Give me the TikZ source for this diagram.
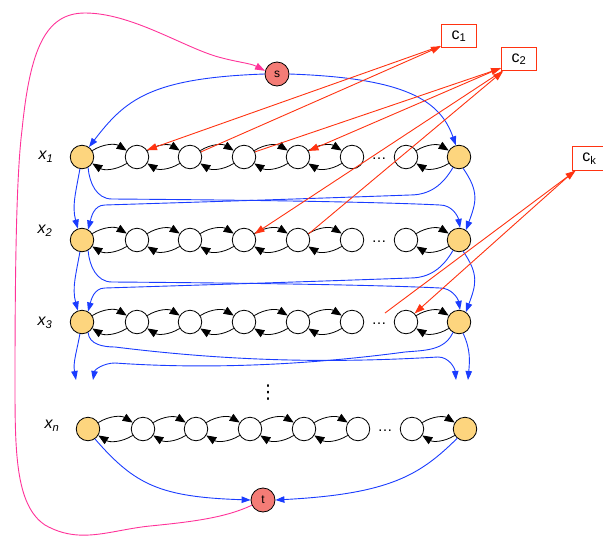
\documentclass[tikz,border=0pt]{standalone}
\usepackage{fontspec}
\setmainfont{Liberation Sans}
\newfontfamily\dejavu{DejaVu Sans}
\usetikzlibrary{arrows.meta,calc}
\definecolor{gold}{HTML}{FDD57E}
\definecolor{salmon}{HTML}{F47C76}
\definecolor{eblue}{HTML}{1A3CFF}
\definecolor{ered}{HTML}{FF3311}
\definecolor{epink}{HTML}{FF3399}
\begin{document}
\begin{tikzpicture}[x=1pt,y=1pt,
  vtx/.style={circle,draw=black,line width=0.8pt,minimum size=23.5pt,inner sep=0pt,fill=white},
  gvtx/.style={vtx,fill=gold},
  stnode/.style={vtx,fill=salmon,minimum size=24pt,font=\fontsize{12}{12}\selectfont},
  cbox/.style={draw=ered,line width=0.9pt,minimum width=35pt,minimum height=23.5pt,inner sep=0pt,fill=white,font=\fontsize{16}{16}\selectfont},
  blk/.style={-{Triangle[length=10pt,width=8pt]},line width=0.8pt,black},
  blu/.style={-{Triangle[length=9pt,width=6.5pt]},line width=0.9pt,eblue},
  redarr/.style={-{Triangle[length=10pt,width=7pt]},line width=0.9pt,ered},
  pnk/.style={-{Triangle[length=10pt,width=7pt]},line width=0.9pt,epink},
  lbl/.style={font=\fontsize{16}{16}\selectfont\itshape,inner sep=0pt},
  dts/.style={font=\fontsize{15}{15}\selectfont,inner sep=0pt}
]
\useasboundingbox (0,0) rectangle (603,-536);

% rows
\foreach \r/\y/\dx in {1/-157/0, 2/-240/0, 3/-322/0, n/-429/6} {
  \node[gvtx] (L\r) at (82+\dx,\y) {};
  \foreach \k/\xx in {1/137,2/190,3/244,4/298,5/352,6/406}
    \node[vtx] (c\r\k) at (\xx+\dx,\y) {};
  \node[gvtx] (R\r) at (459+\dx,\y) {};
  \node[dts] (d\r) at (379+\dx,\y-2) {\dots};
  \foreach \a/\b in {L\r/c\r1, c\r1/c\r2, c\r2/c\r3, c\r3/c\r4, c\r4/c\r5, c\r6/R\r} {
    \draw[blk] (\a) to[bend left=32] (\b);
    \draw[blk] (\b) to[bend left=32] (\a);
  }
}

% labels
\node[lbl] (lx1) at (46,-157) {x\textsubscript{1}};
\node[lbl] (lx2) at (45,-231) {x\textsubscript{2}};
\node[lbl] (lx3) at (45,-323) {x\textsubscript{3}};
\node[lbl] (lxn) at (52,-426) {x\textsubscript{n}};
\node[font=\fontsize{19}{19}\selectfont\dejavu,inner sep=0pt] (vd) at (268,-393) {⋮};

% s, t
\node[stnode] (s) at (277,-74) {s};
\node[stnode] (t) at (263,-500) {t};

% clause boxes
\node[cbox] (C1) at (459,-36) {c\textsubscript{1}};
\node[cbox] (C2) at (519,-59) {c\textsubscript{2}};
\node[cbox] (Ck) at (589.5,-158.5) {c\textsubscript{k}};

% blue edges from s
\draw[blu] (s.west) .. controls (150,-78) and (125,-100) .. (L1.55);
\draw[blu] (s.east) .. controls (405,-78) and (440,-100) .. (R1.105);

% blue edges between rows
\foreach \a/\b/\y in {1/2/-157, 2/3/-240} {
  \draw[blu] (L\a.-100) to[out=-100,in=105] (L\b.110);
  \draw[blu] (R\a.-70) to[out=-55,in=70,looseness=1.2] (R\b.55);
  \draw[blu] (L\a.-60) to[out=-85,in=180] (112,\y-42) .. controls (250,\y-43) and (380,\y-45) .. (440,\y-48) to[out=0,in=100] (R\b.85);
  \draw[blu] (R\a.-120) to[out=-120,in=0] (410,\y-38) .. controls (300,\y-42) and (200,\y-45) .. (105,\y-48) to[out=180,in=75] (L\b.60);
}

% dangling blue edges below x3
\coordinate (e1) at (76,-380);
\coordinate (e2) at (93,-380);
\coordinate (e3) at (456,-380);
\coordinate (e4) at (468,-380);
\draw[blu] (L3.-100) to[out=-100,in=100] (e1);
\draw[blu] (R3.-70) to[out=-65,in=85] (e4);
\draw[blu] (L3.-60) to[out=-85,in=180] (115,-347) .. controls (220,-360) and (320,-364) .. (438,-357) to[out=0,in=95] (e3);
\draw[blu] (R3.-120) to[out=-115,in=5] (405,-352) .. controls (300,-366) and (200,-369) .. (115,-363) to[out=180,in=80] (e2);

% blue edges to t
\draw[blu] (Ln.-55) .. controls (135,-485) and (160,-497) .. (t.west);
\draw[blu] (Rn.-130) .. controls (420,-475) and (390,-494) .. (t.east);

% red clause edges
\draw[redarr] ($(C1.south west)+(-1,2)$) -- (c11.35);
\draw[redarr] (c12.25) -- ($(C1.south west)+(0,2)$);
\draw[redarr] (c13.25) -- ($(C2.south west)+(0,3)$);
\draw[redarr] ($(C2.south west)+(-1,3)$) -- (c14.30);
\draw[redarr] ($(C2.south west)+(1,0)$) -- (c23.30);
\draw[redarr] (c24.30) -- ($(C2.south west)+(2,0)$);
\coordinate (k0) at (385,-313);
\draw[redarr] (k0) -- ($(Ck.south west)+(4,0)$);
\draw[redarr] ($(Ck.south west)+(3,0)$) -- (c36.45);

% pink edge t -> s
\draw[pnk] (t.205) .. controls (225,-518) and (190,-522) .. (150,-526)
  .. controls (110,-530) and (80,-545) .. (45,-525)
  .. controls (15,-505) and (15,-450) .. (15,-380)
  .. controls (15,-250) and (17,-170) .. (22,-130)
  .. controls (30,-50) and (45,-13) .. (85,-13)
  .. controls (130,-13) and (180,-45) .. (215,-56)
  .. controls (235,-62) and (250,-63) .. (s.165);
\end{tikzpicture}
\end{document}
